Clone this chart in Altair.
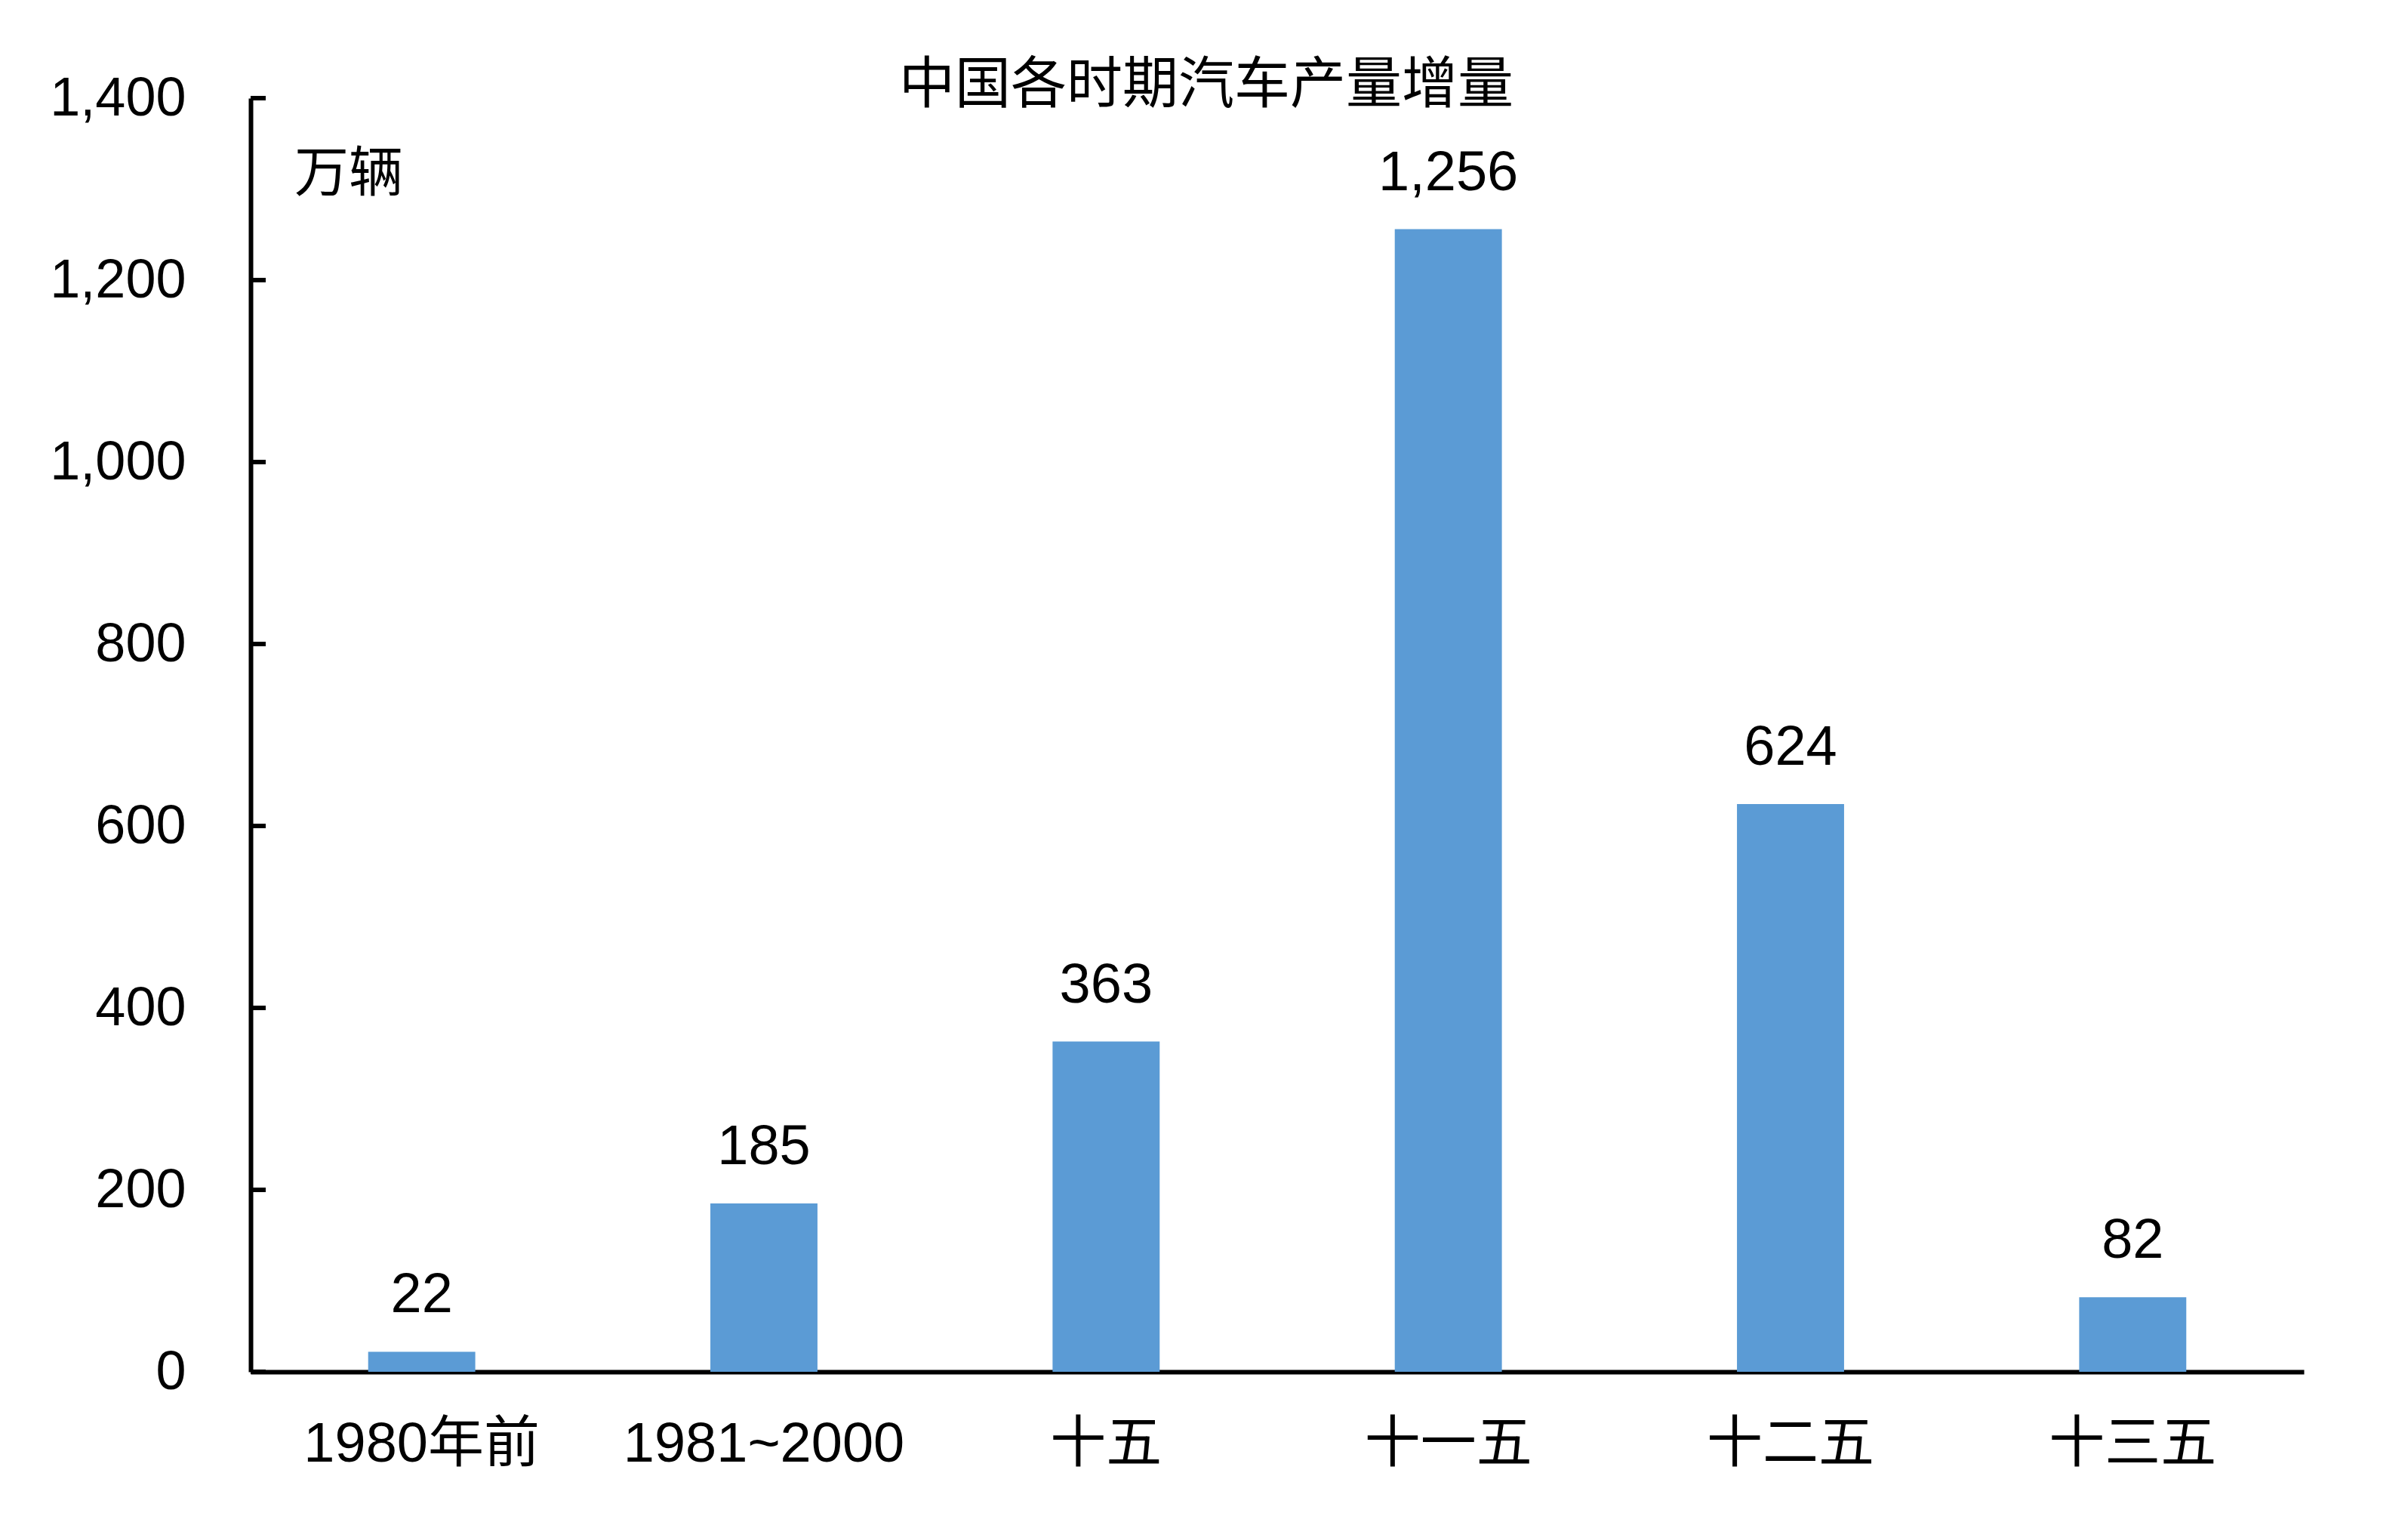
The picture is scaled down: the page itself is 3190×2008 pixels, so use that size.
import altair as alt
import pandas as pd

categories = ["1980年前", "1981~2000", "十五", "十一五", "十二五", "十三五"]
values = [22, 185, 363, 1256, 624, 82]
y_ticks = [0, 200, 400, 600, 800, 1000, 1200, 1400]
title_text = "中国各时期汽车产量增量"
unit_text = "万辆"

LATIN = "Liberation Sans, Arial, Noto Sans CJK SC"
CJK = "Noto Sans CJK SC"

df = pd.DataFrame({"cat": categories, "v": values})
ticks_df = pd.DataFrame({"t": y_ticks})

x_scale = alt.Scale(paddingInner=0, paddingOuter=0)
x_axis = alt.Axis(labelAngle=0, ticks=False, labelFont=LATIN, labelFontSize=74,
                  labelColor="black", labelPadding=60, domainColor="black",
                  domainWidth=6, labelLimit=0)
y_scale = alt.Scale(domain=[0, 1400], nice=False)
y_axis = alt.Axis(values=y_ticks, format=",d", ticks=False, grid=False,
                  labelFont=LATIN, labelFontSize=72, labelColor="black",
                  labelPadding=86, domainColor="black", domainWidth=6,
                  labelLimit=0)

base = alt.Chart(df)
bars = base.mark_bar(color="#5B9BD5", width=alt.RelativeBandSize(0.313)).encode(
    x=alt.X("cat:N", sort=None, title=None, scale=x_scale, axis=x_axis),
    y=alt.Y("v:Q", title=None, scale=y_scale, axis=y_axis))
labels = base.mark_text(baseline="alphabetic", dy=-52, font=LATIN, fontSize=74, color="black").encode(
    x=alt.X("cat:N", sort=None, title=None, scale=x_scale, axis=x_axis),
    y=alt.Y("v:Q", title=None, scale=y_scale, axis=y_axis),
    text=alt.Text("v:Q", format=","))

tick_marks = alt.Chart(ticks_df).mark_rule(color="black", strokeWidth=6).encode(
    y=alt.Y("t:Q", title=None, scale=y_scale, axis=y_axis), x=alt.value(0), x2=alt.value(20))

title = alt.Chart(pd.DataFrame({"t": [title_text]})).mark_text(
    font=CJK, fontSize=74, color="black", align="center", baseline="middle").encode(
    text="t:N", x=alt.value(1266), y=alt.value(-16))

unit = alt.Chart(pd.DataFrame({"t": [unit_text]})).mark_text(
    font=CJK, fontSize=72, color="black", align="left", baseline="middle").encode(
    text="t:N", x=alt.value(58), y=alt.value(101))

chart = alt.layer(bars, labels, tick_marks, title, unit).properties(
    width=2720, height=1687,
    background="white",
    autosize=alt.AutoSizeParams(type="none"),
    padding={"left": 324, "top": 122, "right": 120, "bottom": 170},
).configure_view(stroke="transparent", strokeWidth=0)

chart.save("out.html", embed_options={"renderer": "svg", "actions": False})
